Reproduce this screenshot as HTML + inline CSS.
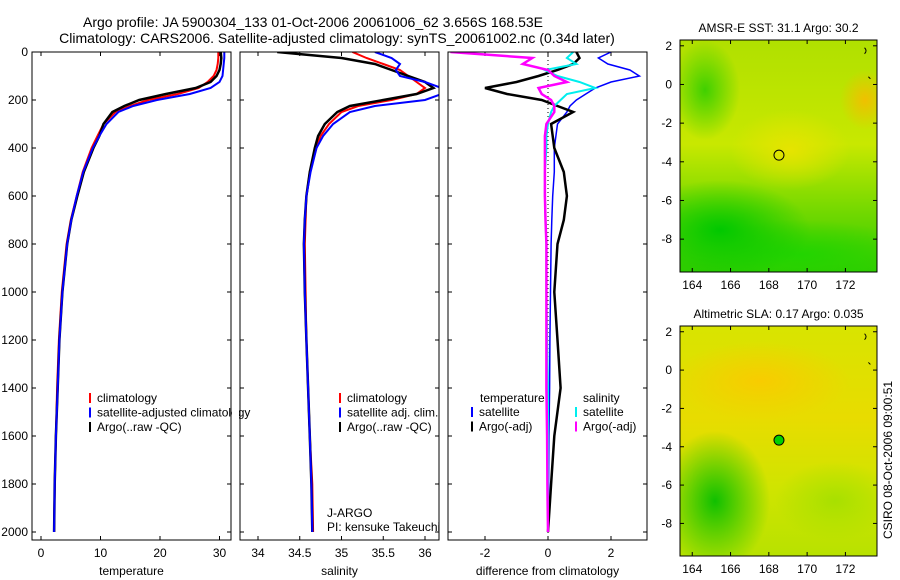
<!DOCTYPE html>
<html><head><meta charset="utf-8">
<style>
body{margin:0;background:#fff;}
svg{display:block;font-family:"Liberation Sans",sans-serif;font-size:12px;}
</style></head>
<body>
<div style="position:relative;width:900px;height:580px;">
<svg id="chart" width="900" height="580"></svg>
</div>
<script>
// ---- data ----
const depths = [0,25,50,75,100,125,150,175,200,225,250,300,350,400,500,600,700,800,1000,1200,1400,1600,1800,2000];
const tempClim = [29.8,29.8,29.7,29.5,29,28,26.5,23,18,15,12.5,10.5,9.5,8.5,7,6,5,4.3,3.5,3,2.7,2.5,2.3,2.2];
const tempArgo = [30.2,30.3,30.2,30,29.5,28.5,26,21,16.5,14,12,10.5,9.8,8.8,7.2,6.1,5.1,4.4,3.6,3.1,2.8,2.5,2.3,2.2];
const tempSat  = [30.8,30.8,30.7,30.6,30.5,30,28.5,25,19.5,15.5,13,11,9.8,8.7,7.1,6,5.1,4.4,3.6,3.1,2.8,2.5,2.3,2.2];
const salClim = [35.13,35.3,35.5,35.7,35.8,35.9,36.0,35.9,35.6,35.2,35.0,34.85,34.75,34.7,34.62,34.58,34.57,34.56,34.57,34.58,34.6,34.62,34.65,34.66];
const salArgo = [34.23,35.0,35.4,35.6,35.8,36.0,36.1,35.9,35.5,35.1,34.95,34.8,34.72,34.68,34.62,34.58,34.56,34.55,34.56,34.58,34.6,34.62,34.64,34.65];
const salSat  = [35.4,35.6,35.7,35.65,35.7,36.0,36.2,36.2,36.0,35.4,35.1,34.9,34.78,34.7,34.63,34.58,34.56,34.55,34.56,34.58,34.6,34.62,34.64,34.65];
const dTempSat  = [2.0,1.6,1.9,2.6,2.9,2.0,1.5,1.2,0.9,0.7,0.6,0.3,0.25,0.2,0.2,0.15,0.12,0.1,0.08,0.06,0.05,0.03,0.02,0.0];
const dTempArgo = [0.9,1.0,0.8,0.3,-0.3,-1.0,-2.0,-1.3,-0.2,0.3,0.8,0.1,0.15,0.2,0.5,0.6,0.5,0.3,0.2,0.3,0.4,0.2,0.1,0.0];
const dSalSat   = [0.8,0.6,0.9,-0.1,0.3,1.0,1.5,0.6,0.4,0.2,0.1,0.0,-0.05,-0.05,-0.1,-0.1,-0.08,-0.05,-0.05,-0.03,0,0,0,0];
const dSalArgo  = [-3.1,-0.5,-0.8,0.0,0.2,0.6,-0.3,-0.2,0.1,0.2,0.2,-0.05,-0.1,-0.1,-0.1,-0.1,-0.08,-0.05,-0.05,-0.05,-0.05,-0.03,-0.02,0];
const depthTicks = [0,200,400,600,800,1000,1200,1400,1600,1800,2000];
const tempTicks = [0,10,20,30];
const salTicks = [34,34.5,35,35.5,36];
const diffTicks = [-2,0,2];
const lonTicks = [164,166,168,170,172];
const latTicks = [2,0,-2,-4,-6,-8];

const NS="http://www.w3.org/2000/svg";
const svg=document.getElementById('chart');
function el(tag,attrs,parent){const e=document.createElementNS(NS,tag);for(const k in attrs)e.setAttribute(k,attrs[k]);(parent||svg).appendChild(e);return e;}
function txt(x,y,s,anchor,name,extra){const t=el('text',Object.assign({x:x,y:y,'text-anchor':anchor||'start'},extra||{}));t.textContent=s;


return t;}

const yD = d => 52 + d*0.24;
const PT=52, PB=540;
const defs=el('defs',{});

txt(313,27,'Argo profile: JA 5900304_133 01-Oct-2006 20061006_62 3.656S 168.53E','middle','title-line-1',{'font-size':'14'});
txt(337,43,'Climatology: CARS2006. Satellite-adjusted climatology: synTS_20061002.nc (0.34d later)','middle','title-line-2',{'font-size':'14'});

let clipId=0;
function panel(x0,x1,xs,ticks,xtitle,name,series,ylabels){
  const g=el('g',{});
  
  
  const cid='clip'+(clipId++);
  const cp=el('clipPath',{id:cid},defs);
  el('rect',{x:x0,y:PT,width:x1-x0,height:PB-PT},cp);
  el('rect',{x:x0,y:PT,width:x1-x0,height:PB-PT,fill:'#fff',stroke:'none'},g);
  depthTicks.forEach(d=>{
    el('line',{x1:x0,x2:x0+4,y1:yD(d),y2:yD(d),stroke:'#000'},g);
    el('line',{x1:x1-4,x2:x1,y1:yD(d),y2:yD(d),stroke:'#000'},g);
    if(ylabels) txt(x0-4,yD(d)+4,String(d),'end','depth-tick-label');
  });
  ticks.forEach(v=>{
    const x=xs(v);
    el('line',{x1:x,x2:x,y1:PT,y2:PT+4,stroke:'#000'},g);
    el('line',{x1:x,x2:x,y1:PB-4,y2:PB,stroke:'#000'},g);
    txt(x,557,String(v),'middle','x-tick-label');
  });
  txt((x0+x1)/2,575,xtitle,'middle','x-axis-title');
  const lg=el('g',{'clip-path':'url(#'+cid+')'},g);
  if(name==='difference-panel') el('line',{x1:xs(0),x2:xs(0),y1:PT,y2:PB,stroke:'#000','stroke-dasharray':'1,3'},lg);
  series.forEach(s=>{
    const p=el('polyline',{points:s.v.map((v,i)=>xs(v).toFixed(1)+','+yD(depths[i]).toFixed(1)).join(' '),fill:'none',stroke:s.c,'stroke-width':s.w||2},lg);
    
    
  });
  el('rect',{x:x0,y:PT,width:x1-x0,height:PB-PT,fill:'none',stroke:'#000','stroke-width':1},g);
  return g;
}
const xT=v=>41+v*5.95;
const xS=v=>258+(v-34)*83.5;
const xDf=v=>548+v*31.5;
panel(32,231,xT,tempTicks,'temperature','temperature-panel',[
 {v:tempClim,c:'#f00',n:'temp-climatology-line'},
 {v:tempArgo,c:'#000',n:'temp-argo-line',w:2.5},
 {v:tempSat,c:'#00f',n:'temp-satellite-line'}],true);
panel(240,439,xS,salTicks,'salinity','salinity-panel',[
 {v:salClim,c:'#f00',n:'sal-climatology-line'},
 {v:salArgo,c:'#000',n:'sal-argo-line',w:2.5},
 {v:salSat,c:'#00f',n:'sal-satellite-line'}],false);
panel(448,647,xDf,diffTicks,'difference from climatology','difference-panel',[
 {v:dTempSat,c:'#00f',n:'diff-temp-satellite-line',w:1.5},
 {v:dTempArgo,c:'#000',n:'diff-temp-argo-line',w:2.5},
 {v:dSalSat,c:'#0ee',n:'diff-sal-satellite-line'},
 {v:dSalArgo,c:'#f0f',n:'diff-sal-argo-line',w:2.5}],false);

function legend(x,y,items){
  items.forEach((it,i)=>{
    el('line',{x1:x,x2:x,y1:y+i*14.5-9,y2:y+i*14.5+1,stroke:it[1],'stroke-width':2});
    txt(x+7,y+i*14.5,it[0],'start','legend-entry');
  });
}
legend(90,402,[['climatology','#f00'],['satellite-adjusted climatology','#00f'],['Argo(..raw -QC)','#000']]);
el('rect',{x:232,y:380,width:7,height:60,fill:'#fff'});
el('line',{x1:231,x2:231,y1:380,y2:440,stroke:'#000'});
legend(340,402,[['climatology','#f00'],['satellite adj. clim.','#00f'],['Argo(..raw -QC)','#000']]);
txt(480,402,'temperature','start','legend-header-temperature');
txt(583,402,'salinity','start','legend-header-salinity');
legend(472,416,[['satellite','#00f'],['Argo(-adj)','#000']]);
legend(576,416,[['satellite','#0ee'],['Argo(-adj)','#f0f']]);
txt(327,517,'J-ARGO','start','float-program');
txt(327,531,'PI: kensuke Takeuchi','start','float-pi');

// ---- maps ----
const lon0=163.36, lon1=173.65, lat0=2.3, lat1=-9.7;
function map(y0,y1,title,name,bg,circFill){
  const x0=680,x1=877;
  const lx=v=>x0+(v-lon0)/(lon1-lon0)*(x1-x0);
  const ly=v=>y0+(lat0-v)/(lat0-lat1)*(y1-y0);
  const g=el('g',{});
  
  
  const fo=el('foreignObject',{x:x0,y:y0,width:x1-x0,height:y1-y0},g);
  const d=document.createElement('div');
  d.style.cssText='width:100%;height:100%;background:'+bg;
  fo.appendChild(d);
  el('rect',{x:x0,y:y0,width:x1-x0,height:y1-y0,fill:'none',stroke:'#000'},g);
  lonTicks.forEach(v=>{el('line',{x1:lx(v),x2:lx(v),y1:y1,y2:y1-4,stroke:'#000'},g);el('line',{x1:lx(v),x2:lx(v),y1:y0,y2:y0+4,stroke:'#000'},g);txt(lx(v),y1+17,String(v),'middle','lon-tick-label');});
  latTicks.forEach(v=>{el('line',{x1:x0,x2:x0+4,y1:ly(v),y2:ly(v),stroke:'#000'},g);el('line',{x1:x1-4,x2:x1,y1:ly(v),y2:ly(v),stroke:'#000'},g);txt(x0-8,ly(v)+4,String(v),'end','lat-tick-label');});
  txt((x0+x1)/2,y0-8,title,'middle','map-title');
  const c=el('circle',{cx:lx(168.53),cy:ly(-3.656),r:5,fill:circFill,stroke:'#000'},g);
  
  
  el('path',{d:`M${lx(173)} ${ly(1.9)} q3 3 0 6 M${lx(173.2)} ${ly(0.4)} l2 2`,stroke:'#000',fill:'none'},g);
}
map(40,272,'AMSR-E SST: 31.1  Argo: 30.2','sst-map',
 'radial-gradient(ellipse 60px 40px at 110px 110px,#e6e400,transparent),radial-gradient(ellipse 90px 50px at 40px 190px,#00c800,transparent),radial-gradient(ellipse 120px 35px at 120px 215px,#22d400,transparent),radial-gradient(ellipse 35px 50px at 25px 50px,#40d000,transparent),radial-gradient(ellipse 25px 30px at 185px 60px,#f0c000,transparent),linear-gradient(#b0e000,#c8e800 45%,#70d800 75%,#30cc00)',
 'transparent');
map(326,556,'Altimetric SLA: 0.17  Argo: 0.035','sla-map',
 'radial-gradient(ellipse 90px 40px at 80px 55px,#f8cc00,transparent),radial-gradient(ellipse 55px 70px at 35px 175px,#10c000,transparent),radial-gradient(ellipse 60px 40px at 155px 175px,#a8e000,transparent),linear-gradient(#d8e400,#e8dc00 40%,#d0e400 70%,#b8e200)',
 '#00d000');
txt(892,460,'CSIRO 08-Oct-2006 09:00:51','middle','timestamp',{transform:'rotate(-90 892 460)'});
</script>
</body></html>
